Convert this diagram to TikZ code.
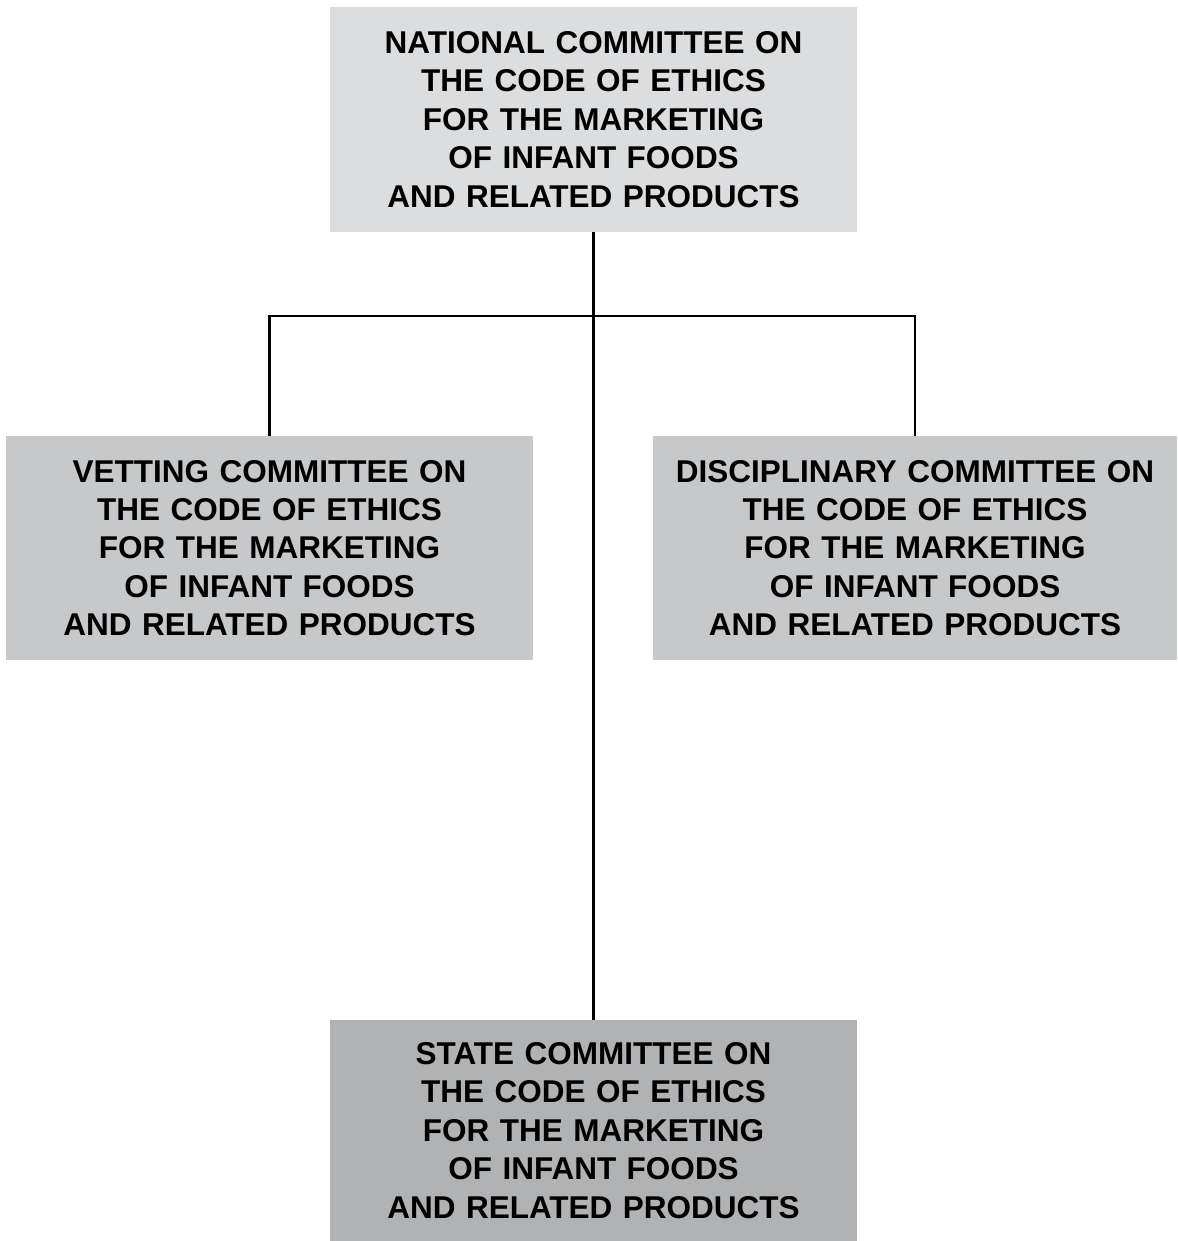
\documentclass[tikz,border=0pt]{standalone}
\usepackage{fontspec}
\setmainfont{Liberation Sans}
\usetikzlibrary{positioning}
\definecolor{topgray}{RGB}{220,221,223}
\definecolor{sidegray}{RGB}{199,200,202}
\definecolor{stategray}{RGB}{177,178,180}
\tikzset{%
    committee/.style={%
        inner sep=0pt, align=center, text width=#1,
        font=\fontsize{31.5}{38.4}\selectfont\bfseries
    }
}
\begin{document}
\begin{tikzpicture}[x=1pt,y=1pt]
    \useasboundingbox (0,0) rectangle (1177,-1241);
    \node[committee=527pt, fill=topgray, minimum height=225pt] (national) at (593.5,-119.5)
        {NATIONAL COMMITTEE ON\\THE CODE OF ETHICS\\FOR THE MARKETING\\OF INFANT FOODS\\AND RELATED PRODUCTS};
    \node[committee=527pt, fill=sidegray, minimum height=224pt] (vetting) at (269.5,-548)
        {VETTING COMMITTEE ON\\THE CODE OF ETHICS\\FOR THE MARKETING\\OF INFANT FOODS\\AND RELATED PRODUCTS};
    \node[committee=524pt, fill=sidegray, minimum height=224pt] (disciplinary) at (915,-548)
        {DISCIPLINARY COMMITTEE ON\\THE CODE OF ETHICS\\FOR THE MARKETING\\OF INFANT FOODS\\AND RELATED PRODUCTS};
    \node[committee=527pt, fill=stategray, minimum height=221pt] (state) at (593.5,-1130.5)
        {STATE COMMITTEE ON\\THE CODE OF ETHICS\\FOR THE MARKETING\\OF INFANT FOODS\\AND RELATED PRODUCTS};
    \coordinate (fork) at (593.5,-316);
    \draw[line width=2.5pt] (national.south) -- (state.north);
    \draw[line width=2.5pt] (vetting.north) |- (fork) -| (disciplinary.north);
\end{tikzpicture}
\end{document}
